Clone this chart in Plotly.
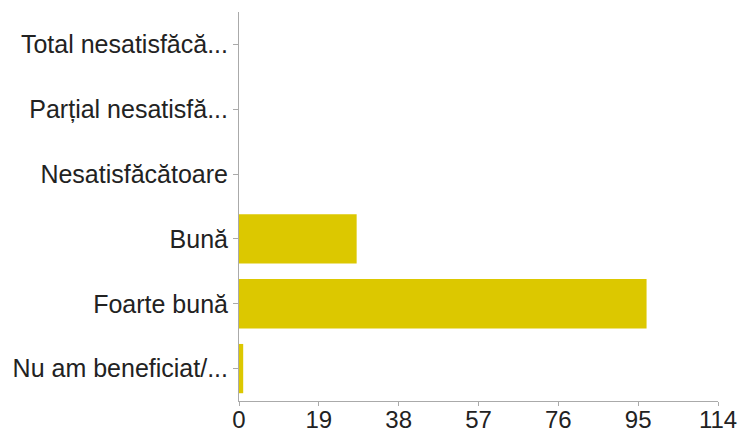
import plotly.graph_objects as go

categories = ["Total nesatisfăcă...", "Parțial nesatisfă...", "Nesatisfăcătoare",
              "Bună", "Foarte bună", "Nu am beneficiat/..."]
values = [0, 0, 0, 28, 97, 1]
x_ticks = [0, 19, 38, 57, 76, 95, 114]

fig = go.Figure(go.Bar(
    x=values, y=categories, orientation="h",
    marker=dict(color="#dcc800", line=dict(width=0)),
    width=0.76,
))

fig.update_layout(
    width=741, height=432,
    margin=dict(l=239, r=23, t=12, b=31, autoexpand=False),
    paper_bgcolor="white", plot_bgcolor="white",
    font=dict(family="Liberation Sans, Arial, sans-serif", size=24, color="#222222"),
    showlegend=False,
    bargap=0.24,
)
fig.update_xaxes(
    range=[0, 114], tickvals=x_ticks, ticktext=[str(v) for v in x_ticks],
    showgrid=False, zeroline=False,
    showline=True, linecolor="#aaaaaa", linewidth=1,
    ticks="outside", ticklen=4, tickcolor="#aaaaaa",
    tickfont=dict(size=24), automargin=False,
    ticklabelstandoff=-7,
)
fig.update_yaxes(
    categoryorder="array", categoryarray=categories, autorange="reversed",
    showgrid=False, zeroline=False,
    showline=True, linecolor="#aaaaaa", linewidth=1,
    ticks="outside", ticklen=5, tickcolor="#aaaaaa",
    tickfont=dict(size=25), automargin=False,
)

fig.write_html("out.html", config={"displayModeBar": False},
               post_script="document.body.style.margin='0';document.body.style.overflow='hidden';")
